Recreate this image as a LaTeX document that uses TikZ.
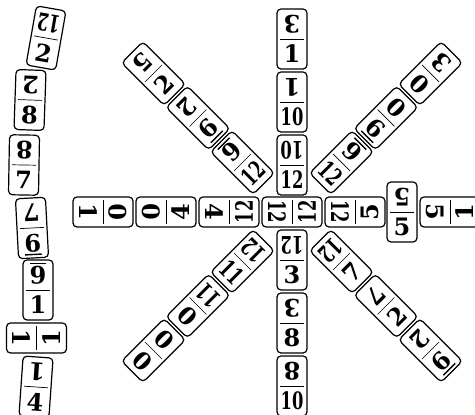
\documentclass[tikz,border=0pt]{standalone}
\usepackage{graphicx}
\usepackage{fontspec}
\setmainfont{DejaVu Serif}
\tikzset{
  x=1pt, y=1pt,
  dombox/.style={draw, line width=1.2pt, rounded corners=4pt, minimum width=60pt, minimum height=30pt, inner sep=0pt, fill=white},
  domdiv/.style={line width=0.7pt},
  domnum/.style={inner sep=0pt, font=\fontsize{24}{24}\selectfont\bfseries},
}
\newcommand\ulsix{\setbox0\hbox{6}\rlap{\smash{\rule[-3.5pt]{\wd0}{1.4pt}}}\box0}
\newcommand\dnum[1]{\ifnum#1>9 \scalebox{0.68}[1]{#1}\else\ifnum#1=6 \ulsix\else#1\fi\fi}
% name, x, y (image coords, y down), angle, A (local left), B (local right)
\newcommand\domino[6]{%
  \begin{scope}[shift={(#2,415-#3)}, rotate=#4, transform shape]
    \node[dombox] (#1) at (0,0) {};
    \draw[domdiv] (0,-12) -- (0,12);
    \node[domnum, rotate=-90] (#1-a) at (-15,0) {\dnum{#5}};
    \node[domnum, rotate=90] (#1-b) at (15,0) {\dnum{#6}};
  \end{scope}}
\begin{document}
\begin{tikzpicture}
\useasboundingbox (0,0) rectangle (475,415);
\clip (0,0) rectangle (475,415);
% horizontal row
\domino{h1}{103}{212}{0}{1}{0}
\domino{h2}{166}{212}{0}{0}{4}
\domino{h3}{229}{212}{0}{4}{12}
\domino{ctr}{292}{212}{0}{12}{12}
\domino{h5}{355}{212}{0}{12}{5}
\domino{h6}{402}{212}{-90}{5}{5}
\domino{h7}{450}{212}{0}{5}{1}
% vertical column
\domino{v1}{292}{39}{-90}{3}{1}
\domino{v2}{292}{102}{-90}{1}{10}
\domino{v3}{292}{165}{-90}{10}{12}
\domino{v4}{292}{260}{-90}{12}{3}
\domino{v5}{292}{323}{-90}{3}{8}
\domino{v6}{292}{386}{-90}{8}{10}
% upper-right arm
\domino{ur1}{341.5}{162.5}{45}{12}{6}
\domino{ur2}{386}{118}{45}{6}{0}
\domino{ur3}{430.5}{73.5}{45}{0}{3}
% lower-right arm
\domino{lr1}{341.5}{261.5}{-45}{12}{7}
\domino{lr2}{386}{306}{-45}{7}{2}
\domino{lr3}{430.5}{350.5}{-45}{2}{6}
% upper-left arm
\domino{ul1}{242.5}{162.5}{135}{12}{6}
\domino{ul2}{198}{118}{135}{6}{2}
\domino{ul3}{153.5}{73.5}{135}{2}{5}
% lower-left arm
\domino{ll1}{242.5}{261.5}{-135}{12}{11}
\domino{ll2}{198}{306}{-135}{11}{0}
\domino{ll3}{153.5}{350.5}{-135}{0}{0}
% left column
\domino{c1}{46}{38}{-100}{12}{2}
\domino{c2}{30}{100}{-92}{2}{8}
\domino{c3}{24}{165}{-91}{8}{7}
\domino{c4}{32}{228}{-87}{7}{6}
\domino{c5}{38}{290}{-90}{6}{1}
\domino{c6}{36.5}{338}{0}{1}{1}
\domino{c7}{36}{387}{-94}{1}{4}
\end{tikzpicture}
\end{document}
